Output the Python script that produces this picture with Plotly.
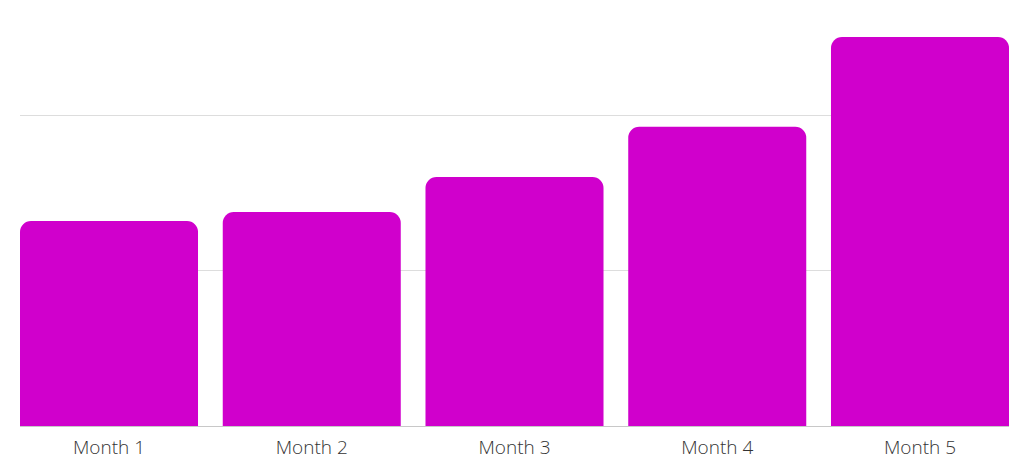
import plotly.graph_objects as go

categories = ["Month 1", "Month 2", "Month 3", "Month 4", "Month 5"]
values = [65.9, 68.8, 80.1, 96.2, 125.1]

fig = go.Figure(go.Bar(
    x=categories,
    y=values,
    marker=dict(color="#d000cc", cornerradius=11, line=dict(width=0)),
    hoverinfo="x+y",
))

fig.update_layout(
    width=1024, height=462,
    margin=dict(l=20, r=15, t=0, b=36, autoexpand=False),
    paper_bgcolor="white", plot_bgcolor="white",
    bargap=0.122,
    showlegend=False,
    font=dict(family="Open Sans", size=18, color="#333333"),
    xaxis=dict(
        range=[-0.439, 4.439], automargin=False,
        showgrid=False, zeroline=False,
        showline=True, linecolor="#c8c8c8", linewidth=1,
        ticks="", ticklen=0, ticklabelstandoff=4,
        tickfont=dict(family="Open Sans", size=19, color="#333333", weight=300),
    ),
    yaxis=dict(
        range=[0, 137], dtick=50, showticklabels=False, automargin=False,
        showgrid=True, gridcolor="#dddddd", gridwidth=1,
        zeroline=False, showline=False, ticks="",
    ),
)

# remove the browser's default 8px body margin so the figure fills the window exactly
fig.write_html(
    "out.html",
    config={"displayModeBar": False},
    post_script="document.body.style.margin='0';document.body.style.overflow='hidden';",
)
